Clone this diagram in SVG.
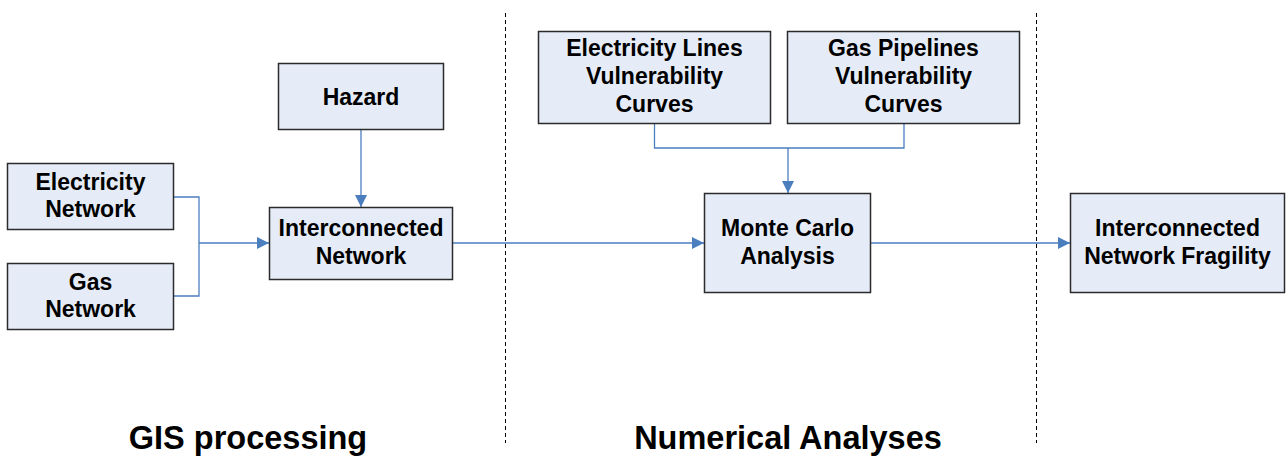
<svg xmlns="http://www.w3.org/2000/svg" width="1287" height="456" viewBox="0 0 1287 456">
  <style>
    .box { fill: #e6ecf7; stroke: #2b2b2b; stroke-width: 1.5; }
    .lbl { font-family: "Liberation Sans", Arial, sans-serif; font-weight: bold; font-size: 23px; fill: #000; text-anchor: middle; }
    .sec { font-family: "Liberation Sans", Arial, sans-serif; font-weight: bold; font-size: 32.5px; fill: #000; text-anchor: middle; }
    .wire { fill: none; stroke: #4a7ebf; stroke-width: 1.3; }
    .arr { marker-end: url(#head); }
    .divider { stroke: #000; stroke-width: 1; stroke-dasharray: 4 3; }
  </style>
  <defs>
    <marker id="head" viewBox="0 0 10 10" refX="10" refY="5" markerWidth="12" markerHeight="12" markerUnits="userSpaceOnUse" orient="auto">
      <path d="M0,0 L10,5 L0,10 Z" fill="#4a7ebf"/>
    </marker>
  </defs>
  <rect width="1287" height="456" fill="#fff"/>

  <!-- section dividers -->
  <line class="divider" x1="505.5" y1="13" x2="505.5" y2="443"/>
  <line class="divider" x1="1036.5" y1="13" x2="1036.5" y2="443"/>

  <!-- connectors -->
  <g id="connectors">
    <polyline class="wire" points="174,197 199,197 199,296 174,296"/>
    <line class="wire arr" x1="199" y1="243" x2="269" y2="243"/>
    <line class="wire arr" x1="361" y1="130" x2="361" y2="207"/>
    <line class="wire arr" x1="452" y1="243" x2="704" y2="243"/>
    <polyline class="wire" points="654.5,123 654.5,148 904,148 904,123"/>
    <line class="wire arr" x1="788" y1="148" x2="788" y2="193"/>
    <line class="wire arr" x1="870" y1="243" x2="1070" y2="243"/>
  </g>

  <g id="electricity-network">
    <rect class="box" x="7.5" y="163.5" width="166" height="66"/>
    <text class="lbl" x="90.5" y="189.5">Electricity</text>
    <text class="lbl" x="90.5" y="217">Network</text>
  </g>

  <g id="gas-network">
    <rect class="box" x="7.5" y="263.5" width="166" height="66"/>
    <text class="lbl" x="90.5" y="289.5">Gas</text>
    <text class="lbl" x="90.5" y="317">Network</text>
  </g>

  <g id="hazard">
    <rect class="box" x="278.5" y="63.5" width="165" height="66"/>
    <text class="lbl" x="361" y="104.5">Hazard</text>
  </g>

  <g id="interconnected-network">
    <rect class="box" x="269.5" y="207.5" width="183" height="72"/>
    <text class="lbl" x="361" y="236">Interconnected</text>
    <text class="lbl" x="361" y="263.5">Network</text>
  </g>

  <g id="electricity-curves">
    <rect class="box" x="538.5" y="31.5" width="232" height="92"/>
    <text class="lbl" x="654.5" y="56">Electricity Lines</text>
    <text class="lbl" x="654.5" y="84">Vulnerability</text>
    <text class="lbl" x="654.5" y="112">Curves</text>
  </g>

  <g id="gas-curves">
    <rect class="box" x="787.5" y="31.5" width="232" height="92"/>
    <text class="lbl" x="903.5" y="56">Gas Pipelines</text>
    <text class="lbl" x="903.5" y="84">Vulnerability</text>
    <text class="lbl" x="903.5" y="112">Curves</text>
  </g>

  <g id="monte-carlo">
    <rect class="box" x="704.5" y="193.5" width="166" height="99"/>
    <text class="lbl" x="787.5" y="236">Monte Carlo</text>
    <text class="lbl" x="787.5" y="263.5">Analysis</text>
  </g>

  <g id="network-fragility">
    <rect class="box" x="1070.5" y="193.5" width="214" height="99"/>
    <text class="lbl" x="1177.5" y="236">Interconnected</text>
    <text class="lbl" x="1177.5" y="263.5">Network Fragility</text>
  </g>

  <text class="sec" x="248" y="449">GIS processing</text>
  <text class="sec" x="788" y="449">Numerical Analyses</text>
</svg>
